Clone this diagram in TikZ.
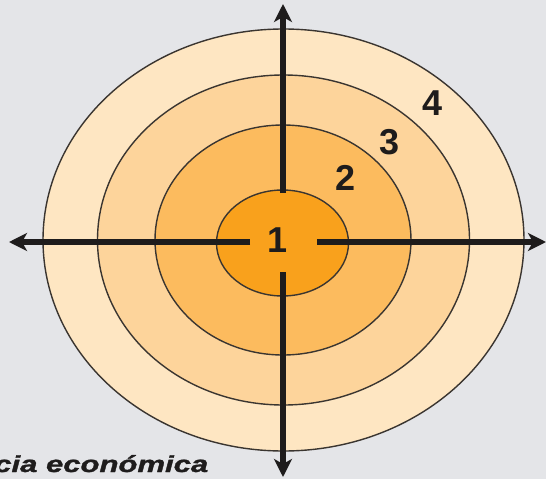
\documentclass[tikz,border=0pt]{standalone}
\usepackage{fontspec}
\setmainfont{Liberation Sans}
\newfontfamily\capfont[BoldItalicFeatures={FakeBold=1.2}]{Liberation Sans}
\usetikzlibrary{arrows.meta}
\definecolor{bg}{HTML}{E4E5E8}
\definecolor{cfour}{HTML}{FEE6C2}
\definecolor{cthree}{HTML}{FDD49B}
\definecolor{ctwo}{HTML}{FCBB5E}
\definecolor{cone}{HTML}{F9A11C}
\definecolor{ringline}{HTML}{3A3530}
\definecolor{axisc}{HTML}{1E1C1C}
\begin{document}
\begin{tikzpicture}[x=1pt,y=-1pt,
  ring/.style={draw=ringline,line width=1.4pt},
  axis/.style={line width=6pt,draw=axisc,-{Stealth[length=18pt,width=18pt,inset=5pt]}},
  num/.style={font=\fontsize{36}{36}\selectfont\bfseries,text=axisc,inner sep=0pt}]
\fill[bg] (0,0) rectangle (546,479);
\useasboundingbox (0,0) rectangle (546,479);
% rings
\draw[ring,fill=cfour]  (283.5,240) ellipse [x radius=240.5, y radius=211];
\draw[ring,fill=cthree] (283.5,240) ellipse [x radius=186, y radius=165];
\draw[ring,fill=ctwo]   (283,240) ellipse [x radius=128, y radius=115];
\draw[ring,fill=cone]   (282.5,243) ellipse [x radius=66, y radius=53];
% axis coordinates
\coordinate (gl) at (250,242);
\coordinate (gr) at (317,242);
\coordinate (gt) at (283,193);
\coordinate (gb) at (283,272);
\coordinate (el) at (9,242);
\coordinate (er) at (546,242);
\coordinate (et) at (283,4);
\coordinate (eb) at (283,477);
\draw[axis] (gl) -- (el);
\draw[axis] (gr) -- (er);
\draw[axis] (gt) -- (et);
\draw[axis] (gb) -- (eb);
% labels
\node[num] (n1) at (278,240) {1};
\node[num] (n2) at (346,178) {2};
\node[num] (n3) at (390,142) {3};
\node[num] (n4) at (433,103) {4};
\node[anchor=base west,inner sep=0pt,xscale=1.35,text=axisc,
  font=\capfont\fontsize{23}{23}\selectfont\bfseries\itshape] (cap) at (-6,472) {cia económica};
\end{tikzpicture}
\end{document}
